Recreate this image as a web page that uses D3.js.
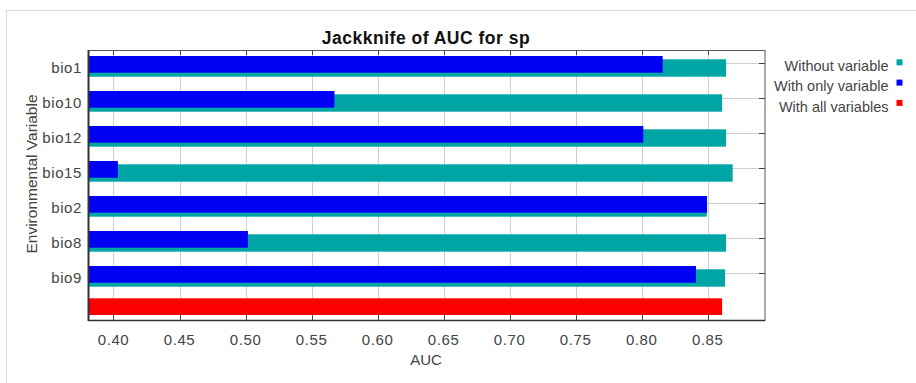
<!DOCTYPE html>
<html>
<head>
<meta charset="utf-8">
<script src="https://cdn.jsdelivr.net/npm/d3@7"></script>
<style>
  html, body { margin: 0; padding: 0; background: #fff; }
  svg { display: block; font-family: "Liberation Sans", Arial, sans-serif; }
</style>
</head>
<body>
<svg id="chart" width="916" height="383"></svg>
<script>
const categories = ["bio1", "bio10", "bio12", "bio15", "bio2", "bio8", "bio9"];
const withoutVariable = [0.8639, 0.8609, 0.8639, 0.8689, 0.8493, 0.8639, 0.8631];
const withOnlyVariable = [0.8159, 0.5673, 0.8012, 0.4033, 0.8495, 0.5018, 0.8411];
const withAllVariables = 0.8609;
const xTicks = [0.40, 0.45, 0.50, 0.55, 0.60, 0.65, 0.70, 0.75, 0.80, 0.85];
const legendLabels = ["Without variable", "With only variable", "With all variables"];
const colors = ["#00a6a6", "#0000f5", "#ff0000"];

const svg = d3.select("#chart");
const L = 88.5, R = 765, T = 50, B = 320;

// outer frame
svg.append("rect").attr("x", 6.5).attr("y", 10.5).attr("width", 940).attr("height", 400)
  .attr("fill", "none").attr("stroke", "#dcdcdc");

const x = d3.scaleLinear().domain([0.38107, 0.89338]).range([L, R]);
const rowKeys = categories.concat(["__all"]);
const y = d3.scalePoint().domain(rowKeys).range([63.3, 308.3]);

const g = svg.append("g");

// gridlines
g.selectAll(".vg").data(xTicks).join("line")
  .attr("x1", d => Math.round(x(d)) + 0.5).attr("x2", d => Math.round(x(d)) + 0.5)
  .attr("y1", T).attr("y2", B).attr("stroke", "#cfcfcf").attr("stroke-width", 1);
g.selectAll(".hg").data(categories).join("line")
  .attr("x1", L).attr("x2", R)
  .attr("y1", d => Math.round(y(d)) + 0.5).attr("y2", d => Math.round(y(d)) + 0.5)
  .attr("stroke", "#cfcfcf").attr("stroke-width", 1);

// teal (without variable)
g.selectAll(".teal").data(categories).join("rect")
  .attr("x", L).attr("y", d => y(d) - 4)
  .attr("width", (d, i) => x(withoutVariable[i]) - L).attr("height", 17.4)
  .attr("fill", colors[0]);
// blue (with only variable)
g.selectAll(".blue").data(categories).join("rect")
  .attr("x", L).attr("y", d => y(d) - 7.3)
  .attr("width", (d, i) => x(withOnlyVariable[i]) - L).attr("height", 16.7)
  .attr("fill", colors[1]);
// red (all variables)
g.append("rect")
  .attr("x", L).attr("y", y("__all") - 10)
  .attr("width", x(withAllVariables) - L).attr("height", 16.7)
  .attr("fill", colors[2]);

// plot border
svg.append("rect").attr("x", L).attr("y", T + 0.5).attr("width", R - L).attr("height", B - T)
  .attr("fill", "none").attr("stroke", "#555").attr("stroke-width", 1);
svg.append("line").attr("x1", L).attr("x2", L).attr("y1", T).attr("y2", B + 1)
  .attr("stroke", "#333").attr("stroke-width", 2);
svg.append("line").attr("x1", L).attr("x2", R).attr("y1", B + 0.5).attr("y2", B + 0.5)
  .attr("stroke", "#333").attr("stroke-width", 1.5);

// inward ticks
svg.selectAll(".tt").data(xTicks).join("line")
  .attr("x1", d => Math.round(x(d)) + 0.5).attr("x2", d => Math.round(x(d)) + 0.5)
  .attr("y1", T).attr("y2", T + 5).attr("stroke", "#444");
svg.selectAll(".bt").data(xTicks).join("line")
  .attr("x1", d => Math.round(x(d)) + 0.5).attr("x2", d => Math.round(x(d)) + 0.5)
  .attr("y1", B - 5).attr("y2", B).attr("stroke", "#444");
svg.selectAll(".rt").data(categories).join("line")
  .attr("x1", R - 6).attr("x2", R)
  .attr("y1", d => Math.round(y(d)) + 0.5).attr("y2", d => Math.round(y(d)) + 0.5)
  .attr("stroke", "#444");

// x tick labels
svg.selectAll(".xl").data(xTicks).join("text")
  .attr("x", d => x(d)).attr("y", 345)
  .attr("text-anchor", "middle").attr("font-size", 15).attr("fill", "#444")
  .attr("letter-spacing", 0.6)
  .text(d => d3.format(".2f")(d));

// y category labels
svg.selectAll(".yl").data(categories).join("text")
  .attr("x", 82).attr("y", d => y(d) + 9.5)
  .attr("text-anchor", "end").attr("font-size", 15).attr("fill", "#444")
  .attr("letter-spacing", 0.6)
  .text(d => d);

// axis titles
svg.append("text").attr("x", 426).attr("y", 365).attr("text-anchor", "middle")
  .attr("font-size", 15).attr("fill", "#444").text("AUC");
svg.append("text").attr("transform", "translate(37,174) rotate(-90)")
  .attr("text-anchor", "middle").attr("font-size", 15.5).attr("fill", "#444")
  .text("Environmental Variable");

// title
svg.append("text").attr("x", 426).attr("y", 44).attr("text-anchor", "middle")
  .attr("font-size", 17.5).attr("font-weight", "bold").attr("fill", "#111")
  .attr("letter-spacing", 0.5)
  .text("Jackknife of AUC for sp");

// legend
const lg = svg.selectAll(".lg").data(legendLabels).join("g")
  .attr("transform", (d, i) => `translate(0, ${i * 20.3})`);
lg.append("text").attr("x", 888.5).attr("y", 71).attr("text-anchor", "end")
  .attr("font-size", 14.5).attr("fill", "#444").text(d => d);
lg.append("rect").attr("x", 896.5).attr("y", 59.3).attr("width", 6).attr("height", 6)
  .attr("fill", (d, i) => colors[i]);
</script>
</body>
</html>
